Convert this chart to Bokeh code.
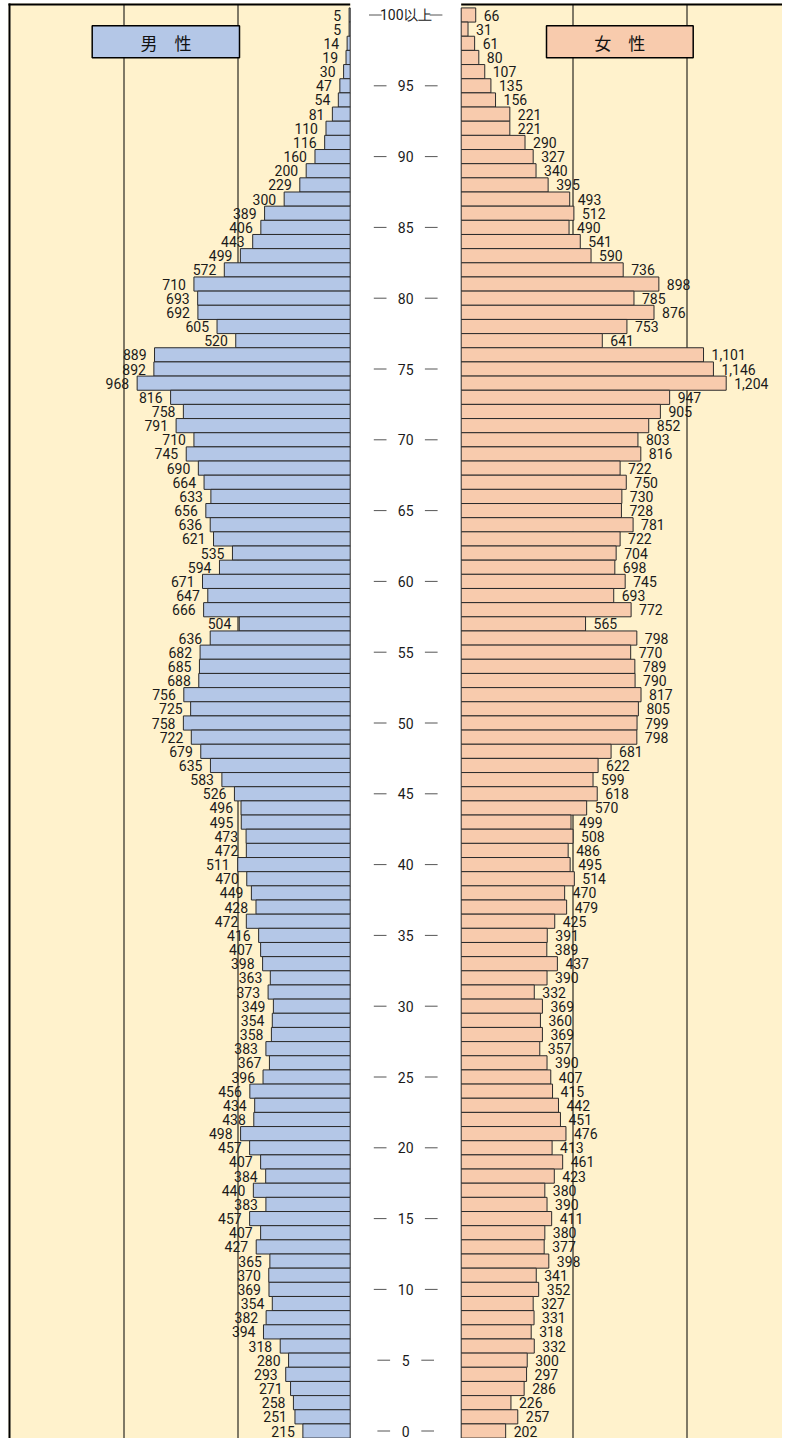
from bokeh.plotting import figure
from bokeh.models import ColumnDataSource, Range1d
from bokeh.core.properties import value
from bokeh.embed import file_html
from bokeh.resources import INLINE

# ---------------- data (top row = 100以上, bottom row = 0) ----------------
ages = list(range(100, -1, -1))
male = [5, 5, 14, 19, 30, 47, 54, 81, 110, 116,
        160, 200, 229, 300, 389, 406, 443, 499, 572, 710,
        693, 692, 605, 520, 889, 892, 968, 816, 758, 791,
        710, 745, 690, 664, 633, 656, 636, 621, 535, 594,
        671, 647, 666, 504, 636, 682, 685, 688, 756, 725,
        758, 722, 679, 635, 583, 526, 496, 495, 473, 472,
        511, 470, 449, 428, 472, 416, 407, 398, 363, 373,
        349, 354, 358, 383, 367, 396, 456, 434, 438, 498,
        457, 407, 384, 440, 383, 457, 407, 427, 365, 370,
        369, 354, 382, 394, 318, 280, 293, 271, 258, 251,
        215]
female = [66, 31, 61, 80, 107, 135, 156, 221, 221, 290,
          327, 340, 395, 493, 512, 490, 541, 590, 736, 898,
          785, 876, 753, 641, 1101, 1146, 1204, 947, 905, 852,
          803, 816, 722, 750, 730, 728, 781, 722, 704, 698,
          745, 693, 772, 565, 798, 770, 789, 790, 817, 805,
          799, 798, 681, 622, 599, 618, 570, 499, 508, 486,
          495, 514, 470, 479, 425, 391, 389, 437, 390, 332,
          369, 360, 369, 357, 390, 407, 415, 442, 451, 476,
          413, 461, 423, 380, 390, 411, 380, 377, 398, 341,
          352, 327, 331, 318, 332, 300, 297, 286, 226, 257,
          202]
tick_ages = [100, 95, 90, 85, 80, 75, 70, 65, 60, 55, 50,
             45, 40, 35, 30, 25, 20, 15, 10, 5, 0]
tick_labels = ["100以上", "95", "90", "85", "80", "75", "70", "65", "60", "55", "50",
               "45", "40", "35", "30", "25", "20", "15", "10", "5", "0"]
male_title = "男　性"
female_title = "女　性"

# ---------------- styling / layout constants ----------------
W, H = 782, 1438
SCALE = 0.2201            # pixels per person
PX = 1.0 / SCALE          # persons per pixel
CENTER = 405.2            # px: centre of the white band
HALF_GAP = 55.5 * PX
ROW = 14.16               # px per age row
TOP_Y = 14.5              # px: centre of the 100以上 row
AGE0_Y = TOP_Y + 100 * ROW

CREAM = "#FFF2CC"
BLUE = "#B4C7E7"
PEACH = "#F8CBAD"
TXT = "#1a1a1a"
NUM_FONT = value("Roboto")
CJK_FONT = value("Noto Sans CJK JP")
FS = "14px"


def px_x(x):
    return (x - CENTER) * PX


def px_y(y):
    return (AGE0_Y - y) / ROW


X0, X1 = px_x(0), px_x(W)
Y0, Y1 = px_y(H), px_y(0)

p = figure(width=W, height=H, x_range=Range1d(X0, X1), y_range=Range1d(Y0, Y1),
           output_backend="svg", toolbar_location=None, min_border=0,
           x_axis_location=None, y_axis_location=None)
p.grid.visible = False
p.outline_line_color = None
p.background_fill_color = "white"
p.border_fill_color = "white"

# cream panels
p.quad(left=[px_x(8), HALF_GAP], right=[-HALF_GAP, X1],
       bottom=[Y0, Y0], top=[px_y(3), px_y(3)],
       fill_color=CREAM, line_color=None)

# vertical grid lines
gx = [px_x(123.5), px_x(237.5), px_x(572.5), px_x(686.5)]
p.segment(x0=gx, x1=gx, y0=[Y0] * 4, y1=[px_y(4)] * 4, line_color="black", line_width=1)

# borders (top of both panels, left edge)
p.quad(left=[px_x(8), HALF_GAP], right=[-HALF_GAP, X1],
       bottom=[px_y(5)] * 2, top=[px_y(3)] * 2,
       fill_color="black", line_color=None)
p.quad(left=[px_x(8)], right=[px_x(10)], bottom=[Y0], top=[px_y(3)],
       fill_color="black", line_color=None)

# bars
src = ColumnDataSource(dict(
    age=ages,
    m_left=[-HALF_GAP - v for v in male],
    m_right=[-HALF_GAP] * len(male),
    f_left=[HALF_GAP] * len(female),
    f_right=[HALF_GAP + v for v in female],
    m_lab=[f"{v:,}" for v in male],
    f_lab=[f"{v:,}" for v in female],
))
p.hbar(y="age", left="m_left", right="m_right", height=1.0, source=src,
       fill_color=BLUE, line_color="#2b2b2b", line_width=1)
p.hbar(y="age", left="f_left", right="f_right", height=1.0, source=src,
       fill_color=PEACH, line_color="#2b2b2b", line_width=1)

# value labels
p.text(x="m_left", y="age", text="m_lab", source=src, x_offset=-8,
       text_align="right", text_baseline="middle", text_font=NUM_FONT,
       text_font_size=FS, text_color=TXT)
p.text(x="f_right", y="age", text="f_lab", source=src, x_offset=8,
       text_align="left", text_baseline="middle", text_font=NUM_FONT,
       text_font_size=FS, text_color=TXT)

# age labels in centre band
p.text(x=[0] * len(tick_ages), y=tick_ages, text=tick_labels,
       text_align="center", text_baseline="middle", text_font=NUM_FONT,
       text_font_size=FS, text_color=TXT)
dx0, dx1, dy = [], [], []
for a, lbl in zip(tick_ages, tick_labels):
    if lbl.isdigit():
        hw, gap = 3.6 * len(lbl), 12.0
    else:
        hw, gap = 24.0, 0.0
    inner, outer = (hw + gap) * PX, (hw + gap + 12.7) * PX
    dx0 += [-outer, inner]
    dx1 += [-inner, outer]
    dy += [a, a]
p.segment(x0=dx0, x1=dx1, y0=dy, y1=dy, line_color="#555555", line_width=1)

# sex title boxes
p.quad(left=[px_x(91.7), px_x(546)], right=[px_x(239), px_x(692.7)],
       top=[px_y(25.3)] * 2, bottom=[px_y(57.3)] * 2,
       fill_color=[BLUE, PEACH], line_color="black", line_width=1.5)
p.text(x=[px_x(165.4), px_x(619.3)], y=[px_y(41.5)] * 2, text=[male_title, female_title],
       text_align="center", text_baseline="middle", text_font=CJK_FONT,
       text_font_size="17px", text_color="#111111")

open("out.html", "w").write(file_html(p, INLINE))
